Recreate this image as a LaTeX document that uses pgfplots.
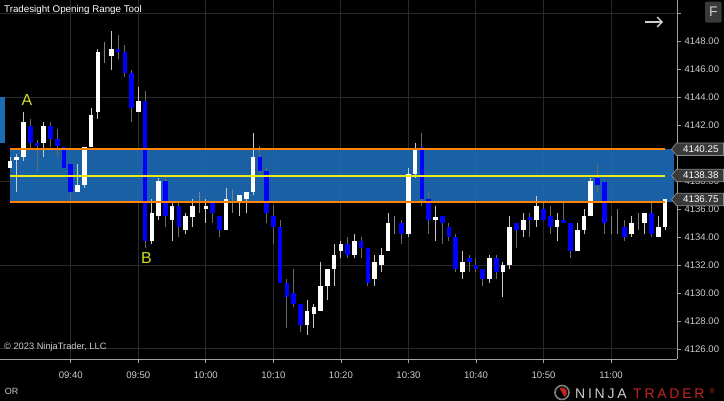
\documentclass[border=0pt]{standalone}
\usepackage{fontspec}
\setmainfont{Liberation Sans}
\newfontfamily\logofont[LetterSpace=20]{Liberation Sans}
\usepackage{pgfplots}
\usepackage{pgfplotstable}
\pgfplotsset{compat=1.18}
\usetikzlibrary{arrows.meta}

\definecolor{bandblue}{RGB}{28,107,182}
\definecolor{gridc}{RGB}{42,42,42}
\definecolor{axc}{RGB}{160,160,160}
\definecolor{txtc}{RGB}{205,205,205}
\definecolor{cblue}{RGB}{0,0,255}
\definecolor{orln}{RGB}{255,130,0}
\definecolor{yeln}{RGB}{235,235,20}
\definecolor{lblc}{RGB}{205,220,40}
\definecolor{tagc}{RGB}{58,58,58}
\definecolor{tagb}{RGB}{140,140,140}
\definecolor{ntred}{RGB}{200,35,35}
\definecolor{wup}{RGB}{200,200,200}
\definecolor{wdn}{RGB}{105,105,105}

% up candles (close > open)
\pgfplotstableread{
m O H L C
1 4139.00 4139.75 4139.00 4139.50
2 4139.50 4140.00 4137.25 4139.75
3 4139.75 4143.00 4139.50 4142.25
6 4140.75 4142.25 4139.75 4142.00
11 4137.25 4139.25 4137.25 4137.75
12 4137.75 4140.50 4137.50 4140.50
13 4140.50 4143.25 4140.50 4142.75
14 4143.00 4147.50 4142.50 4147.25
16 4147.00 4148.75 4146.00 4147.50
20 4143.00 4144.75 4143.00 4143.75
22 4133.75 4136.75 4133.50 4135.75
23 4135.50 4138.25 4135.25 4138.00
25 4135.25 4136.50 4133.75 4136.25
27 4134.50 4135.75 4134.25 4135.50
28 4135.50 4136.75 4134.75 4136.25
30 4136.00 4136.75 4135.00 4136.25
33 4134.50 4137.50 4134.50 4136.75
35 4136.50 4137.00 4135.50 4137.00
36 4136.75 4137.25 4135.75 4137.25
37 4137.25 4141.50 4137.00 4139.75
45 4127.75 4129.50 4127.00 4128.75
46 4128.50 4129.25 4127.50 4129.00
47 4128.75 4132.25 4128.75 4130.50
48 4130.50 4131.75 4129.50 4131.75
49 4131.75 4133.50 4130.50 4132.75
50 4133.00 4133.75 4132.50 4133.50
52 4132.75 4134.25 4132.50 4133.75
55 4131.00 4132.75 4130.50 4132.25
56 4132.00 4133.25 4131.50 4132.75
57 4133.00 4135.75 4133.00 4135.00
60 4134.25 4139.00 4134.00 4138.50
61 4138.50 4140.75 4138.25 4140.25
64 4135.25 4136.25 4133.75 4135.50
68 4131.50 4133.00 4131.00 4132.25
72 4131.00 4132.75 4130.75 4132.50
74 4131.50 4132.25 4129.75 4132.00
75 4132.00 4135.50 4131.75 4134.75
77 4134.50 4135.75 4134.00 4135.25
79 4135.25 4137.00 4134.75 4136.25
82 4134.75 4135.75 4133.75 4135.25
85 4133.00 4135.00 4133.00 4134.50
86 4134.50 4136.00 4134.25 4135.50
87 4135.50 4138.25 4135.50 4138.00
93 4134.25 4135.50 4134.00 4135.00
95 4135.00 4135.75 4134.25 4135.75
97 4134.00 4135.50 4134.00 4134.75
98 4134.75 4136.75 4134.50 4136.75
}\upt

% down candles (close < open)
\pgfplotstableread{
m O H L C
4 4142.00 4142.50 4140.25 4140.75
5 4140.75 4141.00 4138.75 4140.50
7 4142.00 4142.25 4140.50 4141.00
8 4141.00 4141.75 4139.75 4140.50
9 4140.50 4140.50 4139.00 4139.00
10 4139.25 4139.25 4136.50 4137.25
17 4147.50 4148.50 4146.75 4147.25
18 4147.25 4147.75 4145.50 4145.75
19 4145.75 4146.00 4142.25 4143.25
21 4143.75 4144.50 4133.25 4133.75
24 4138.00 4138.50 4134.75 4135.50
26 4136.25 4136.50 4134.00 4134.75
31 4136.50 4136.75 4135.00 4135.75
32 4135.50 4135.50 4134.00 4134.50
38 4139.75 4140.50 4138.50 4138.75
39 4138.75 4139.00 4135.00 4135.75
40 4135.50 4136.25 4133.50 4134.75
41 4134.75 4135.25 4130.75 4130.75
42 4130.75 4131.00 4127.50 4129.75
43 4130.00 4131.75 4129.00 4129.25
44 4129.25 4129.25 4127.25 4127.75
51 4133.50 4134.00 4132.50 4132.75
53 4133.75 4134.00 4132.50 4133.25
54 4133.25 4133.25 4130.50 4130.75
59 4135.00 4135.25 4133.50 4134.25
62 4140.50 4141.50 4136.25 4136.75
63 4136.75 4137.25 4134.25 4135.25
65 4135.50 4135.50 4133.50 4135.00
66 4134.75 4135.00 4133.75 4134.00
67 4134.00 4134.25 4131.50 4131.75
69 4132.50 4132.75 4131.50 4132.25
70 4132.00 4132.50 4131.50 4131.75
71 4131.75 4131.75 4130.50 4131.00
73 4132.50 4132.75 4131.00 4131.50
76 4135.00 4135.00 4133.25 4134.50
78 4135.50 4135.75 4134.00 4135.25
80 4136.00 4136.50 4135.25 4135.25
81 4135.50 4136.25 4134.25 4134.75
83 4135.25 4136.50 4135.00 4135.00
84 4135.00 4135.00 4132.50 4133.00
88 4138.25 4139.25 4137.25 4137.75
89 4138.00 4138.00 4134.25 4135.00
92 4134.75 4135.25 4133.75 4134.00
96 4135.75 4136.50 4134.00 4134.25
}\dnt

% doji candles (open = close)
\pgfplotstableread{
m O H L C
15 4147.25 4148.00 4146.50 4147.25
29 4136.50 4137.25 4135.75 4136.50
34 4136.00 4137.50 4135.75 4136.00
58 4135.00 4135.50 4134.25 4135.00
90 4135.00 4135.50 4134.25 4135.00
91 4135.25 4136.00 4134.25 4135.25
94 4135.00 4135.75 4134.50 4135.00
}\djt

\begin{document}
\begin{tikzpicture}
\path[use as bounding box] (0,0) rectangle (724bp,401bp);
\fill[black] (0,0) rectangle (724bp,401bp);

\begin{axis}[
  at={(0bp,42bp)}, anchor=south west,
  width=677bp, height=359bp, scale only axis,
  xmin=-0.484, xmax=99.77, ymin=4125.284, ymax=4150.985,
  axis x line*=bottom, axis y line*=right,
  axis line style={draw=axc, line width=0.8bp, -},
  tick align=outside, major tick length=4bp,
  tick style={draw=axc, line width=0.8bp},
  xtick={10,20,30,40,50,60,70,80,90},
  xticklabels={09:40,09:50,10:00,10:10,10:20,10:30,10:40,10:50,11:00},
  ytick={4126,4128,4130,4132,4134,4136,4138,4140,4142,4144,4146,4148,4150},
  yticklabels={4126.00,4128.00,4130.00,4132.00,4134.00,4136.00,4138.00,4140.00,4142.00,4144.00,4146.00,4148.00,{}},
  xmajorgrids,
  grid style={draw=gridc, line width=1bp},
  extra y ticks={4126,4132,4138,4144,4150},
  extra y tick labels={},
  extra y tick style={grid=major, major tick length=0pt},
  ticklabel style={font=\fontsize{9.6}{11}\selectfont, text=txtc},
  yticklabel style={anchor=west},
  xticklabel style={yshift=-5bp},
]
% opening range band
\addplot[draw=none, fill=bandblue, fill opacity=0.9] coordinates {(1.0,4136.5) (99.32,4136.5) (99.32,4140.3) (1.0,4140.3)} -- cycle;
% wicks
\addplot[draw=none, mark=none, error bars/.cd, y dir=both, y explicit, error mark=none,
  error bar style={draw=wup, line width=1bp}]
  table[x=m, y expr={(\thisrow{H}+\thisrow{L})/2}, y error expr={(\thisrow{H}-\thisrow{L})/2}] {\upt};
\addplot[draw=none, mark=none, error bars/.cd, y dir=both, y explicit, error mark=none,
  error bar style={draw=wdn, line width=1bp}]
  table[x=m, y expr={(\thisrow{H}+\thisrow{L})/2}, y error expr={(\thisrow{H}-\thisrow{L})/2}] {\dnt};
\addplot[draw=none, mark=none, error bars/.cd, y dir=both, y explicit, error mark=none,
  error bar style={draw=gray, line width=1bp}]
  table[x=m, y expr={(\thisrow{H}+\thisrow{L})/2}, y error expr={(\thisrow{H}-\thisrow{L})/2}] {\djt};
% bodies
\addplot[draw=none, mark=none, error bars/.cd, y dir=both, y explicit, error mark=none,
  error bar style={draw=white, line width=4.6bp}]
  table[x=m, y expr={(\thisrow{O}+\thisrow{C})/2}, y error expr={abs(\thisrow{C}-\thisrow{O})/2}] {\upt};
\addplot[draw=none, mark=none, error bars/.cd, y dir=both, y explicit, error mark=none,
  error bar style={draw=cblue, line width=4.6bp}]
  table[x=m, y expr={(\thisrow{O}+\thisrow{C})/2}, y error expr={abs(\thisrow{C}-\thisrow{O})/2}] {\dnt};
% range lines
\addplot[orln, line width=2bp] coordinates {(1.0,4140.3) (98.04,4140.3)};
\addplot[orln, line width=2bp] coordinates {(1.0,4136.5) (98.04,4136.5)};
\addplot[yeln, line width=2bp] coordinates {(1.0,4138.4) (98.04,4138.4)};
% labels
\node[text=lblc, font=\fontsize{16}{16}\selectfont] at (axis cs:3.5,4143.82) {A};
\node[text=lblc, font=\fontsize{16}{16}\selectfont] at (axis cs:21.2,4132.5) {B};
\end{axis}

% left UI tab
\fill[bandblue] (0bp,258.3bp) rectangle (5bp,303.7bp);
% title
\node[anchor=west, text=white, font=\fontsize{9.8}{11}\selectfont, inner sep=0pt] at (4bp,391bp) {Tradesight Opening Range Tool};
% F button
\fill[tagc, rounded corners=1.5bp] (705bp,378.3bp) rectangle (721.7bp,399.3bp);
\node[text=txtc, font=\fontsize{14}{14}\selectfont] at (713.3bp,388.8bp) {F};
% arrow
\draw[txtc, line width=1.3bp, -{Straight Barb[length=5bp,width=10bp]}] (645bp,379bp) -- (663bp,379bp);
% price tags
\foreach \yc/\lab in {251.7/4140.25, 225.5/4138.38, 201.5/4136.75} {
  \filldraw[fill=tagc, draw=tagb, line width=0.7bp] (671.5bp,\yc bp) -- (676.5bp,\yc bp+6.2bp) -- (723.5bp,\yc bp+6.2bp) -- (723.5bp,\yc bp-6.2bp) -- (676.5bp,\yc bp-6.2bp) -- cycle;
  \node[anchor=west, text=white, font=\fontsize{9.8}{11}\selectfont, inner sep=0pt] at (683bp,\yc bp) {\lab};
}
% copyright
\node[anchor=west, text=txtc, font=\fontsize{9.3}{11}\selectfont, inner sep=0pt] at (4bp,53.5bp) {\textcopyright\ 2023 NinjaTrader, LLC};
\node[anchor=west, text=txtc, font=\fontsize{9}{11}\selectfont, inner sep=0pt] at (4.6bp,9.3bp) {OR};
% logo
\draw[gray, line width=1.6bp] (562bp,8.5bp) circle (7bp);
\fill[ntred] (562bp,8.5bp) ++(-60:5bp) arc (-60:120:5bp) -- cycle;
\node[anchor=base west, text=txtc, font=\logofont\fontsize{14}{14}\selectfont, inner sep=0pt] at (575bp,2.7bp) {NINJA};
\node[anchor=base west, text=ntred, font=\logofont\fontsize{14}{14}\selectfont, inner sep=0pt] at (633bp,2.7bp) {TRADER};
\node[anchor=base west, text=ntred, font=\fontsize{7}{7}\selectfont, inner sep=0pt] at (709.5bp,8bp) {\textregistered};
\end{tikzpicture}
\end{document}
